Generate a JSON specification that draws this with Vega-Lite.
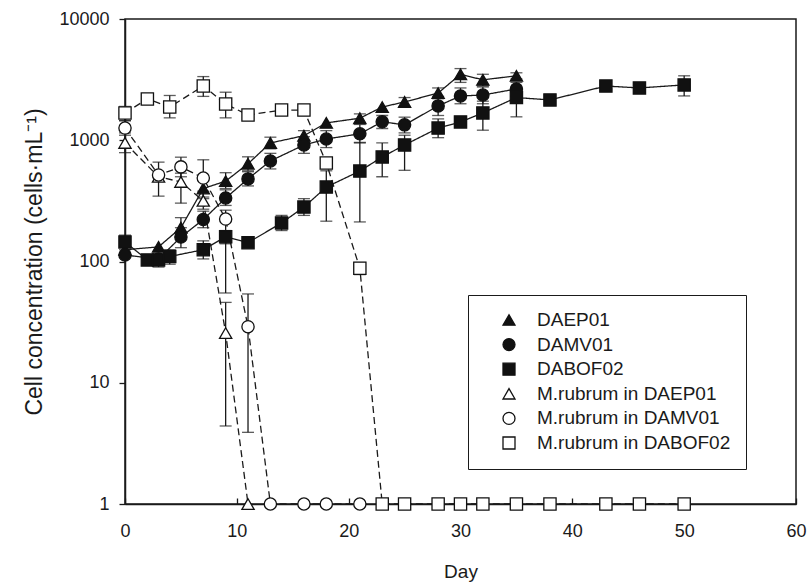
{
  "$schema": "https://vega.github.io/schema/vega-lite/v6.json",
  "width": 671,
  "height": 485,
  "autosize": "none",
  "padding": {"left": 125, "top": 19, "right": 16, "bottom": 83},
  "background": "white",
  "config": {
    "font": "Liberation Sans",
    "view": {"stroke": "#1a1a1a", "strokeWidth": 1.5},
    "axis": {
      "grid": false,
      "domainColor": "#1a1a1a",
      "domainWidth": 1.5,
      "tickColor": "#1a1a1a",
      "tickWidth": 1.3,
      "labelColor": "#1a1a1a",
      "titleColor": "#1a1a1a",
      "labelFont": "Liberation Sans",
      "titleFont": "Liberation Sans",
      "titleFontWeight": "normal",
      "labelFontSize": 18,
      "titleFontSize": 19
    },
    "legend": {
      "padding": 15.5,
      "labelFontSize": 19,
      "labelFont": "Liberation Sans",
      "labelColor": "#1a1a1a",
      "labelLimit": 400,
      "symbolSize": 144,
      "rowPadding": 4.6,
      "symbolOffset": 16,
      "labelOffset": 18.5,
      "symbolStrokeWidth": 1.3,
      "strokeColor": "#1a1a1a"
    }
  },
  "data": {
    "values": [
      {"series": "DAEP01", "day": 0, "value": 125, "lo": null, "hi": null},
      {"series": "DAEP01", "day": 3, "value": 132, "lo": null, "hi": null},
      {"series": "DAEP01", "day": 5, "value": 190, "lo": 160, "hi": 230},
      {"series": "DAEP01", "day": 7, "value": 400, "lo": 330, "hi": 480},
      {"series": "DAEP01", "day": 9, "value": 460, "lo": 400, "hi": 540},
      {"series": "DAEP01", "day": 11, "value": 640, "lo": 560, "hi": 730},
      {"series": "DAEP01", "day": 13, "value": 950, "lo": 850, "hi": 1060},
      {"series": "DAEP01", "day": 16, "value": 1090, "lo": 980, "hi": 1200},
      {"series": "DAEP01", "day": 18, "value": 1390, "lo": null, "hi": null},
      {"series": "DAEP01", "day": 21, "value": 1520, "lo": 1400, "hi": 1650},
      {"series": "DAEP01", "day": 23, "value": 1880, "lo": null, "hi": null},
      {"series": "DAEP01", "day": 25, "value": 2070, "lo": 1900, "hi": 2250},
      {"series": "DAEP01", "day": 28, "value": 2450, "lo": 2200, "hi": 2700},
      {"series": "DAEP01", "day": 30, "value": 3500, "lo": 3000, "hi": 3900},
      {"series": "DAEP01", "day": 32, "value": 3150, "lo": 2800, "hi": 3500},
      {"series": "DAEP01", "day": 35, "value": 3400, "lo": 3200, "hi": 3600},

      {"series": "DAMV01", "day": 0, "value": 113, "lo": null, "hi": null},
      {"series": "DAMV01", "day": 3, "value": 105, "lo": null, "hi": null},
      {"series": "DAMV01", "day": 5, "value": 159, "lo": 130, "hi": 190},
      {"series": "DAMV01", "day": 7, "value": 222, "lo": 190, "hi": 260},
      {"series": "DAMV01", "day": 9, "value": 334, "lo": 290, "hi": 390},
      {"series": "DAMV01", "day": 11, "value": 480, "lo": 420, "hi": 550},
      {"series": "DAMV01", "day": 13, "value": 675, "lo": 580, "hi": 780},
      {"series": "DAMV01", "day": 16, "value": 914, "lo": 780, "hi": 1070},
      {"series": "DAMV01", "day": 18, "value": 1024, "lo": 870, "hi": 1200},
      {"series": "DAMV01", "day": 21, "value": 1130, "lo": 950, "hi": 1350},
      {"series": "DAMV01", "day": 23, "value": 1420, "lo": 1250, "hi": 1600},
      {"series": "DAMV01", "day": 25, "value": 1340, "lo": 1150, "hi": 1550},
      {"series": "DAMV01", "day": 28, "value": 1920, "lo": 1600, "hi": 2300},
      {"series": "DAMV01", "day": 30, "value": 2320, "lo": 2000, "hi": 2700},
      {"series": "DAMV01", "day": 32, "value": 2360, "lo": 2000, "hi": 2750},
      {"series": "DAMV01", "day": 35, "value": 2650, "lo": 2300, "hi": 3000},

      {"series": "DABOF02", "day": 0, "value": 145, "lo": 125, "hi": 165},
      {"series": "DABOF02", "day": 2, "value": 103, "lo": null, "hi": null},
      {"series": "DABOF02", "day": 3, "value": 103, "lo": 90, "hi": 115},
      {"series": "DABOF02", "day": 4, "value": 110, "lo": 95, "hi": 125},
      {"series": "DABOF02", "day": 7, "value": 125, "lo": 105, "hi": 148},
      {"series": "DABOF02", "day": 9, "value": 160, "lo": 140, "hi": 180},
      {"series": "DABOF02", "day": 11, "value": 143, "lo": 130, "hi": 160},
      {"series": "DABOF02", "day": 14, "value": 208, "lo": 180, "hi": 240},
      {"series": "DABOF02", "day": 16, "value": 281, "lo": 240, "hi": 330},
      {"series": "DABOF02", "day": 18, "value": 411, "lo": 215, "hi": 560},
      {"series": "DABOF02", "day": 21, "value": 557, "lo": 212, "hi": 960},
      {"series": "DABOF02", "day": 23, "value": 728, "lo": 500, "hi": 950},
      {"series": "DABOF02", "day": 25, "value": 914, "lo": 565, "hi": 1100},
      {"series": "DABOF02", "day": 28, "value": 1260, "lo": 1050, "hi": 1500},
      {"series": "DABOF02", "day": 30, "value": 1416, "lo": 1300, "hi": 1550},
      {"series": "DABOF02", "day": 32, "value": 1680, "lo": 1210, "hi": 2100},
      {"series": "DABOF02", "day": 35, "value": 2250, "lo": 1560, "hi": 2700},
      {"series": "DABOF02", "day": 38, "value": 2150, "lo": null, "hi": null},
      {"series": "DABOF02", "day": 43, "value": 2800, "lo": null, "hi": null},
      {"series": "DABOF02", "day": 46, "value": 2700, "lo": null, "hi": null},
      {"series": "DABOF02", "day": 50, "value": 2860, "lo": 2320, "hi": 3400},

      {"series": "M.rubrum in DAEP01", "day": 0, "value": 950, "lo": 790, "hi": 1150},
      {"series": "M.rubrum in DAEP01", "day": 3, "value": 500, "lo": null, "hi": null},
      {"series": "M.rubrum in DAEP01", "day": 5, "value": 453, "lo": 303, "hi": 535},
      {"series": "M.rubrum in DAEP01", "day": 7, "value": 316, "lo": 270, "hi": 380},
      {"series": "M.rubrum in DAEP01", "day": 9, "value": 25.7, "lo": 4.4, "hi": 46},
      {"series": "M.rubrum in DAEP01", "day": 11, "value": 1, "lo": null, "hi": null},

      {"series": "M.rubrum in DAMV01", "day": 0, "value": 1260, "lo": 1100, "hi": 1450},
      {"series": "M.rubrum in DAMV01", "day": 3, "value": 517, "lo": 346, "hi": 660},
      {"series": "M.rubrum in DAMV01", "day": 5, "value": 603, "lo": 500, "hi": 725},
      {"series": "M.rubrum in DAMV01", "day": 7, "value": 488, "lo": 340, "hi": 690},
      {"series": "M.rubrum in DAMV01", "day": 9, "value": 224, "lo": 55, "hi": 265},
      {"series": "M.rubrum in DAMV01", "day": 11, "value": 29, "lo": 3.9, "hi": 54},
      {"series": "M.rubrum in DAMV01", "day": 13, "value": 1, "lo": null, "hi": null},
      {"series": "M.rubrum in DAMV01", "day": 16, "value": 1, "lo": null, "hi": null},
      {"series": "M.rubrum in DAMV01", "day": 18, "value": 1, "lo": null, "hi": null},
      {"series": "M.rubrum in DAMV01", "day": 21, "value": 1, "lo": null, "hi": null},

      {"series": "M.rubrum in DABOF02", "day": 0, "value": 1680, "lo": 1450, "hi": 1900},
      {"series": "M.rubrum in DABOF02", "day": 2, "value": 2190, "lo": null, "hi": null},
      {"series": "M.rubrum in DABOF02", "day": 4, "value": 1880, "lo": 1530, "hi": 2340},
      {"series": "M.rubrum in DABOF02", "day": 7, "value": 2800, "lo": 2300, "hi": 3350},
      {"series": "M.rubrum in DABOF02", "day": 9, "value": 1990, "lo": 1530, "hi": 2490},
      {"series": "M.rubrum in DABOF02", "day": 11, "value": 1615, "lo": null, "hi": null},
      {"series": "M.rubrum in DABOF02", "day": 14, "value": 1775, "lo": null, "hi": null},
      {"series": "M.rubrum in DABOF02", "day": 16, "value": 1775, "lo": 1600, "hi": 1950},
      {"series": "M.rubrum in DABOF02", "day": 18, "value": 650, "lo": 600, "hi": 710},
      {"series": "M.rubrum in DABOF02", "day": 21, "value": 88, "lo": 78, "hi": 98},
      {"series": "M.rubrum in DABOF02", "day": 23, "value": 1, "lo": null, "hi": null},
      {"series": "M.rubrum in DABOF02", "day": 25, "value": 1, "lo": null, "hi": null},
      {"series": "M.rubrum in DABOF02", "day": 28, "value": 1, "lo": null, "hi": null},
      {"series": "M.rubrum in DABOF02", "day": 30, "value": 1, "lo": null, "hi": null},
      {"series": "M.rubrum in DABOF02", "day": 32, "value": 1, "lo": null, "hi": null},
      {"series": "M.rubrum in DABOF02", "day": 35, "value": 1, "lo": null, "hi": null},
      {"series": "M.rubrum in DABOF02", "day": 38, "value": 1, "lo": null, "hi": null},
      {"series": "M.rubrum in DABOF02", "day": 43, "value": 1, "lo": null, "hi": null},
      {"series": "M.rubrum in DABOF02", "day": 46, "value": 1, "lo": null, "hi": null},
      {"series": "M.rubrum in DABOF02", "day": 50, "value": 1, "lo": null, "hi": null}
    ]
  },
  "layer": [
    {
      "mark": {"type": "line", "color": "#1a1a1a", "strokeWidth": 1.3},
      "encoding": {
        "x": {
          "field": "day", "type": "quantitative", "title": "Day",
          "scale": {"domain": [0, 60], "nice": false, "zero": false},
          "axis": {"values": [0, 10, 20, 30, 40, 50, 60], "tickSize": -6, "labelPadding": 24, "titlePadding": 22, "labelFlush": false}
        },
        "y": {
          "field": "value", "type": "quantitative", "title": "Cell concentration (cells·mL⁻¹)",
          "scale": {"type": "log", "domain": [1, 10000], "nice": false},
          "axis": {"values": [1, 10, 100, 1000, 10000], "format": "d", "tickSize": 6, "labelPadding": 10, "titlePadding": 12, "titleFontSize": 23}
        },
        "detail": {"field": "series"},
        "order": {"field": "day", "type": "quantitative"},
        "strokeDash": {
          "condition": {"test": "indexof(datum.series, 'M.rubrum') == 0", "value": [7, 4]},
          "value": [1, 0]
        }
      }
    },
    {
      "transform": [{"filter": "isValid(datum.lo)"}],
      "mark": {"type": "errorbar", "ticks": {"size": 12, "color": "#1a1a1a", "thickness": 1.3}, "rule": {"color": "#1a1a1a", "strokeWidth": 1.3}},
      "encoding": {
        "x": {"field": "day", "type": "quantitative", "title": "Day"},
        "y": {"field": "lo", "type": "quantitative", "title": "Cell concentration (cells·mL⁻¹)"},
        "y2": {"field": "hi"}
      }
    },
    {
      "mark": {"type": "point", "filled": true, "size": 150, "stroke": "#111", "strokeWidth": 1.3, "opacity": 1},
      "encoding": {
        "x": {"field": "day", "type": "quantitative", "title": "Day"},
        "y": {"field": "value", "type": "quantitative", "title": "Cell concentration (cells·mL⁻¹)"},
        "shape": {
          "field": "series", "type": "nominal",
          "scale": {
            "domain": ["DAEP01", "DAMV01", "DABOF02", "M.rubrum in DAEP01", "M.rubrum in DAMV01", "M.rubrum in DABOF02"],
            "range": ["triangle-up", "circle", "square", "triangle-up", "circle", "square"]
          },
          "legend": {
            "title": null, "orient": "none", "legendX": 343, "legendY": 276,
            "encode": {
              "symbols": {
                "stroke": {"value": "#111"},
                "strokeWidth": {"value": 1.3}
              },
              "legend": {"strokeWidth": {"value": 1.5}}
            }
          }
        },
        "fill": {
          "field": "series", "type": "nominal",
          "scale": {
            "domain": ["DAEP01", "DAMV01", "DABOF02", "M.rubrum in DAEP01", "M.rubrum in DAMV01", "M.rubrum in DABOF02"],
            "range": ["#111", "#111", "#111", "white", "white", "white"]
          },
          "legend": {
            "title": null, "orient": "none", "legendX": 343, "legendY": 276,
            "encode": {
              "symbols": {
                "stroke": {"value": "#111"},
                "strokeWidth": {"value": 1.3}
              },
              "legend": {"strokeWidth": {"value": 1.5}}
            }
          }
        }
      }
    }
  ]
}
